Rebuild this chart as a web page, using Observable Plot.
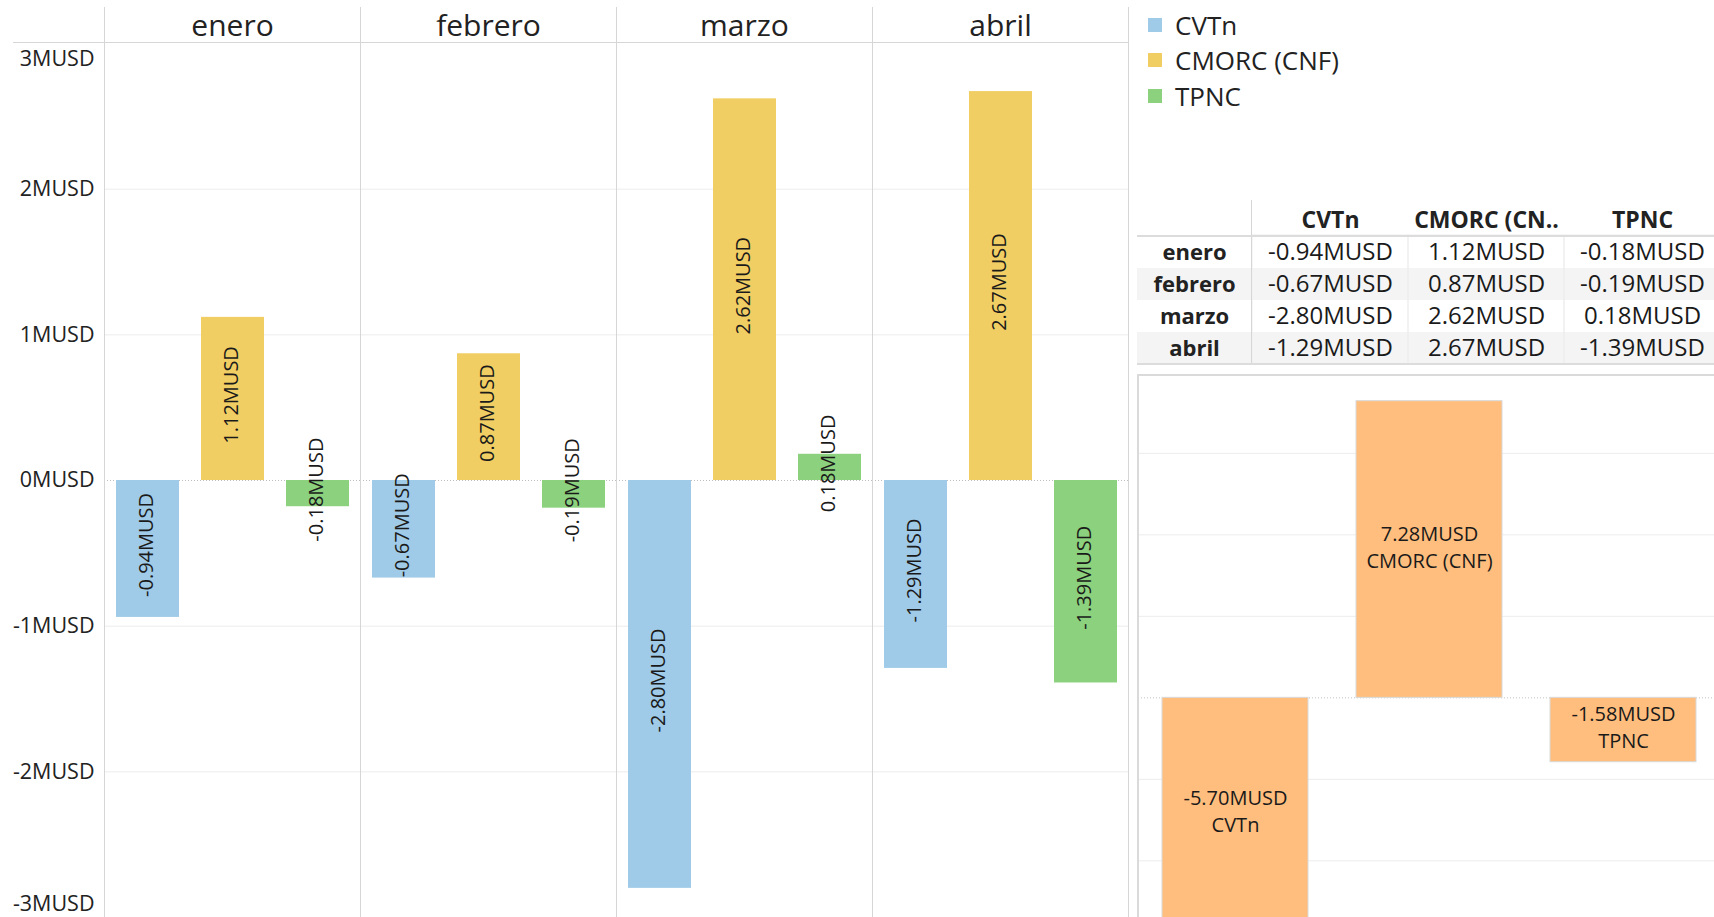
<!DOCTYPE html>
<html><head><meta charset="utf-8">
<script src="https://cdn.jsdelivr.net/npm/d3@7"></script>
<script src="https://cdn.jsdelivr.net/npm/@observablehq/plot@0.6"></script>
<style>
html,body{margin:0;padding:0;background:#fff;}
body{width:1714px;height:917px;position:relative;overflow:hidden;font-family:'Open Sans',sans-serif;color:#222;}
.abs{position:absolute;}
.hl{position:absolute;height:1px;background:#d6d6d6;}
.vl{position:absolute;width:1px;background:#d6d6d6;}
#legend .row{display:flex;align-items:center;height:35.5px;font-size:26px;white-space:nowrap;}
#legend .sw{width:14px;height:14px;margin-right:13px;flex:none;}
</style></head><body>
<div id="left" class="abs" style="left:0;top:0;"></div>
<div id="legend" class="abs" style="left:1148px;top:7px;"></div>
<div id="table" class="abs" style="left:1137px;top:200px;width:577px;height:166px;overflow:hidden;"></div>
<div id="wf" class="abs" style="left:1138px;top:375px;width:576px;height:542px;overflow:hidden;"></div>
<script>
// ---- data ----
const months = ["enero", "febrero", "marzo", "abril"];
const series = ["CVTn", "CMORC (CNF)", "TPNC"];
const colors = ["#a0cbe8", "#f1ce63", "#8cd17d"];
const cvtn  = [-0.94, -0.67, -2.80, -1.29];
const cmorc = [1.12, 0.87, 2.62, 2.67];
const tpnc  = [-0.18, -0.19, 0.18, -1.39];
const yTicksMid = [-2, -1, 0, 1, 2];
const yTickTop = [3];
const yTickBottom = [-3];
const colHeaders = ["CVTn", "CMORC (CN..", "TPNC"];
const wfTicks = [-4, -2, 2, 4, 6];

const valuesBySeries = [cvtn, cmorc, tpnc];
const rows = months.flatMap((m, i) => series.map((s, j) => ({month: m, series: s, value: valuesBySeries[j][i]})));
const totals = series.map((s, j) => ({series: s, total: d3.sum(valuesBySeries[j])}));
const fmt = v => v.toFixed(2) + "MUSD";
const tickFmt = d => `${d}MUSD`;
const FONT = "'Open Sans', sans-serif";
const baseStyle = {fontFamily: FONT, color: "#222", background: "transparent", overflow: "visible", maxWidth: "none"};

// ---- left faceted bar chart ----
const axisOpts = {anchor: "left", tickSize: 0, tickPadding: 10, tickFormat: tickFmt, label: null, fontSize: 21.5};
const left = Plot.plot({
  width: 1130, height: 917,
  marginTop: 43, marginBottom: 0, marginLeft: 104, marginRight: 2,
  style: {...baseStyle, fontSize: "21px"},
  fx: {domain: months, padding: 0, axis: null},
  x: {domain: series, paddingInner: 0.26, paddingOuter: 0.13, axis: null},
  y: {domain: [-3, 3], axis: null},
  color: {domain: series, range: colors},
  marks: [
    Plot.gridY([-2, -1, 1, 2], {stroke: "#ececec", strokeOpacity: 1}),
    Plot.ruleY([0], {stroke: "#bdbdbd", strokeDasharray: "1,2"}),
    Plot.barY(rows, {fx: "month", x: "series", y: "value", fill: "series"}),
    Plot.text(rows, {fx: "month", x: "series", y: d => d.value / 2, text: d => fmt(d.value), rotate: -90, fontSize: 20, dx: -1, dy: -4, fill: "#1a1a1a"}),
    Plot.axisFx({anchor: "top", tickSize: 0, tickPadding: 8, fontSize: 30, label: null}),
    Plot.axisY(yTicksMid, axisOpts),
    Plot.axisY(yTickTop, {...axisOpts, dy: 16}),
    Plot.axisY(yTickBottom, {...axisOpts, dy: -13})
  ]
});
document.getElementById("left").appendChild(left);

// facet dividers and header line (decoration from the fx scale)
const fxs = left.scale("fx");
const [fx0, fx1] = fxs.range;
const stepFx = (fx1 - fx0) / months.length;
for (let i = 0; i <= months.length; i++) {
  const v = document.createElement("div");
  v.className = "vl";
  v.style.left = (fx0 + i * stepFx) + "px";
  v.style.top = "7px";
  v.style.height = "910px";
  document.body.appendChild(v);
}
{
  const h = document.createElement("div");
  h.className = "hl";
  h.style.left = "13px"; h.style.top = "42px"; h.style.width = (fx1 - 13) + "px";
  document.body.appendChild(h);
}

// ---- legend ----
const lg = document.getElementById("legend");
series.forEach((s, i) => {
  const r = document.createElement("div");
  r.className = "row";
  const sw = document.createElement("div");
  sw.className = "sw"; sw.style.background = colors[i];
  const t = document.createElement("span"); t.textContent = s;
  r.appendChild(sw); r.appendChild(t); lg.appendChild(r);
});

// ---- crosstab ----
const shaded = months.filter((m, i) => i % 2 === 1);
const table = Plot.plot({
  width: 584, height: 164,
  marginTop: 35, marginBottom: 0, marginLeft: 114, marginRight: 0,
  style: {...baseStyle, fontSize: "24px"},
  x: {domain: series, padding: 0, axis: null},
  y: {domain: months, padding: 0, axis: null},
  marks: [
    Plot.cell(shaded, {y: d => d, fill: "#f4f4f4", insetLeft: -114}),
    Plot.cell(series, {x: d => d, stroke: "#ededed", fill: "none"}),
    Plot.text(rows, {x: "series", y: "month", text: d => fmt(d.value), fontSize: 24, fill: "#1a1a1a"}),
    Plot.axisX({anchor: "top", tickSize: 0, tickPadding: 8, tickFormat: d => colHeaders[series.indexOf(d)], fontWeight: "bold", fontSize: 23, label: null}),
    Plot.axisY({anchor: "left", tickSize: 0, tickPadding: 57, textAnchor: "middle", fontWeight: "bold", fontSize: 22, label: null})
  ]
});
document.getElementById("table").appendChild(table);
[[1251, 200, 1, 164, "vl"]].forEach(([x, y, w, h, c]) => {
  const d = document.createElement("div"); d.className = c;
  d.style.left = x + "px"; d.style.top = y + "px"; d.style.width = w + "px"; d.style.height = h + "px";
  document.body.appendChild(d);
});
[[1137, 234.5], [1137, 363]].forEach(([x, y]) => {
  const d = document.createElement("div"); d.className = "hl";
  d.style.left = x + "px"; d.style.top = y + "px"; d.style.width = (1714 - x) + "px"; d.style.height = "2px"; d.style.background = "#dcdcdc";
  document.body.appendChild(d);
});

// ---- totals chart ----
const wf = Plot.plot({
  width: 583, height: 542,
  marginTop: 0, marginBottom: 0, marginLeft: 0, marginRight: 0,
  style: {...baseStyle, fontSize: "20px"},
  x: {domain: series, paddingInner: 0.247, paddingOuter: 0.12, axis: null},
  y: {domain: [-5.39, 7.91], axis: null},
  marks: [
    Plot.gridY(wfTicks, {stroke: "#ececec", strokeOpacity: 1}),
    Plot.ruleY([0], {stroke: "#c4c4c4", strokeDasharray: "1,2"}),
    Plot.barY(totals, {x: "series", y: "total", fill: "#ffbe7d", stroke: "#d9d9d9", strokeWidth: 1, clip: true}),
    Plot.text(totals, {x: "series", y: d => d.total / 2, text: d => `${fmt(d.total)}\n${d.series}`, fontSize: 20, lineHeight: 1.35, dy: -4, fill: "#1a1a1a"})
  ]
});
document.getElementById("wf").appendChild(wf);
[[1137, 374, 2, 543, "vl"], [1137, 374, 577, 2, "hl"]].forEach(([x, y, w, h, c]) => {
  const d = document.createElement("div"); d.className = c;
  d.style.left = x + "px"; d.style.top = y + "px"; d.style.width = w + "px"; d.style.height = h + "px"; d.style.background = "#dadada";
  document.body.appendChild(d);
});
</script>
</body></html>
